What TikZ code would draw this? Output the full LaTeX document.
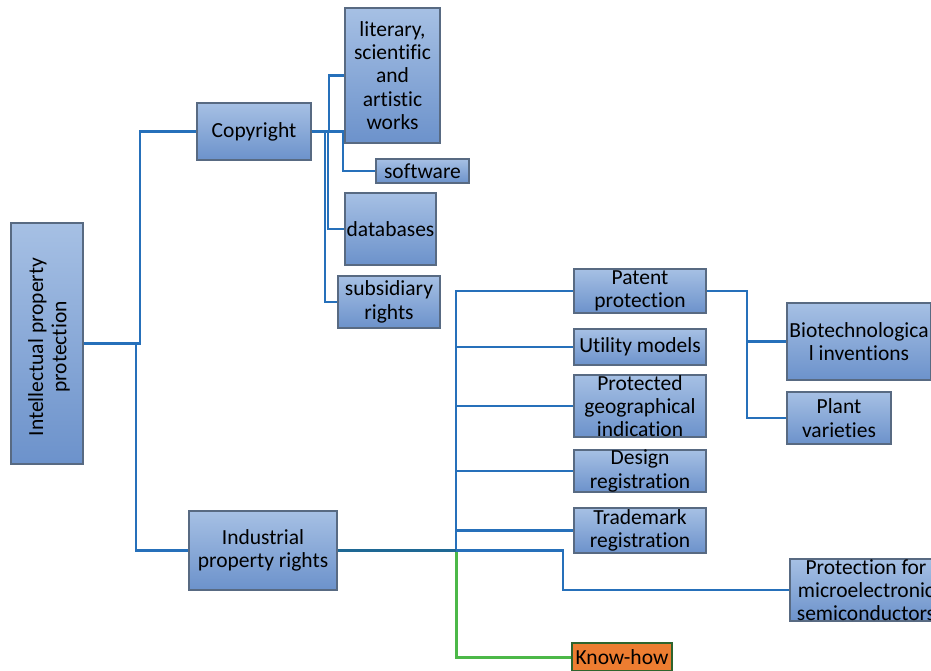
\documentclass[tikz,border=0pt]{standalone}
\usepackage{fontspec}
\setmainfont{Carlito}[Ligatures=NoCommon]
\definecolor{boxtop}{RGB}{166,192,228}
\definecolor{boxbot}{RGB}{108,146,203}
\definecolor{boxline}{RGB}{88,106,130}
\definecolor{conblue}{RGB}{38,112,186}
\definecolor{contrunk}{RGB}{30,104,148}
\definecolor{congreen}{RGB}{76,184,72}
\definecolor{knowfill}{RGB}{237,125,49}
\definecolor{knowline}{RGB}{46,100,46}
\tikzset{
  box/.style={draw=boxline, line width=1.3pt, top color=boxtop, bottom color=boxbot,
    inner sep=0pt, align=center, font=\fontsize{21.5}{23.3}\selectfont},
  conn/.style={draw=conblue, line width=2.9pt},
  trunk/.style={draw=contrunk, line width=2.9pt},
  greenconn/.style={draw=congreen, line width=3pt},
  knowbox/.style={draw=knowline, line width=1.5pt, fill=knowfill, inner sep=0pt,
    align=center, font=\fontsize{21.5}{23.3}\selectfont}
}
\begin{document}
\begin{tikzpicture}[x=1pt,y=-1pt]
\useasboundingbox (0,0) rectangle (931,670);
\clip (0,0) rectangle (931,670);
\fill[white] (0,0) rectangle (931,670);
% nodes
\node[box, minimum width=72pt, minimum height=241pt] (ipp) at (47,343.5) {};
\node[rotate=90, align=center, inner sep=0pt, font=\fontsize{21.5}{23.3}\selectfont] (ipptext) at (49,347) {Intellectual property\\protection};
\node[box, minimum width=114pt, minimum height=57pt] (copy) at (254,131.5) {Copyright};
\node[box, minimum width=95pt, minimum height=135pt] (lit) at (392.5,75.5) {literary,\\scientific\\and\\artistic\\works};
\node[box, minimum width=93pt, minimum height=24pt] (soft) at (422.5,171) {software};
\node[box, minimum width=91pt, minimum height=72pt] (db) at (390.5,229) {databases};
\node[box, minimum width=102pt, minimum height=52pt] (subs) at (389,302) {subsidiary\\rights};
\node[box, minimum width=148pt, minimum height=79pt] (ind) at (263,550.5) {Industrial\\property rights};
\node[box, minimum width=132pt, minimum height=44pt] (pat) at (640,291) {Patent\\protection};
\node[box, minimum width=132pt, minimum height=36pt] (util) at (640,347) {Utility models};
\node[box, minimum width=132pt, minimum height=62pt] (geo) at (640,406) {Protected\\geographical\\indication};
\node[box, minimum width=132pt, minimum height=42pt] (des) at (640,471) {Design\\registration};
\node[box, minimum width=132pt, minimum height=45pt] (tm) at (640,530.5) {Trademark\\registration};
\node[box, minimum width=144pt, minimum height=77pt] (bio) at (859,341.5) {Biotechnologica\\l inventions};
\node[box, minimum width=104pt, minimum height=52pt] (plant) at (839,418) {Plant\\varieties};
\node[box, minimum width=152pt, minimum height=62pt] (micro) at (866,590) {Protection for\\microelectronic\\semiconductors};
\node[knowbox, minimum width=100pt, minimum height=28pt] (know) at (622,657) {Know-how};
% junction coordinates
\coordinate (jc) at (140,0);
\coordinate (ji) at (136,0);
\coordinate (jlit) at (329,0);
\coordinate (jsoft) at (343,0);
\coordinate (jdb) at (328,0);
\coordinate (jsub) at (325,0);
\coordinate (jind) at (456,550.5);
\coordinate (jmic) at (563,550.5);
\coordinate (jpat) at (747,0);
% connectors
\draw[greenconn] (jind) |- (know.west);
\draw[conn] (ipp.east) -- (jc |- ipp.east) |- (copy.west);
\draw[conn] (ipp.east) -- (ji |- ipp.east) |- (ind.west);
\draw[conn] (copy.east) -- (jlit |- copy.east) |- (lit.west);
\draw[conn] (copy.east) -- (jsoft |- copy.east) |- (soft.west);
\draw[conn] (copy.east) -- (jdb |- copy.east) |- (db.west);
\draw[conn] (copy.east) -- (jsub |- copy.east) |- (subs.west);
\draw[conn] (jind) |- (pat.west);
\draw[conn] (jind) |- (util.west);
\draw[conn] (jind) |- (geo.west);
\draw[conn] (jind) |- (des.west);
\draw[conn] (jind) |- (tm.west);
\draw[conn] (jind) -- (jmic) |- (micro.west);
\draw[trunk] (ind.east) -- (jind);
\draw[conn] (pat.east) -- (jpat |- pat.east) |- (bio.west);
\draw[conn] (pat.east) -- (jpat |- pat.east) |- (plant.west);
\end{tikzpicture}
\end{document}
